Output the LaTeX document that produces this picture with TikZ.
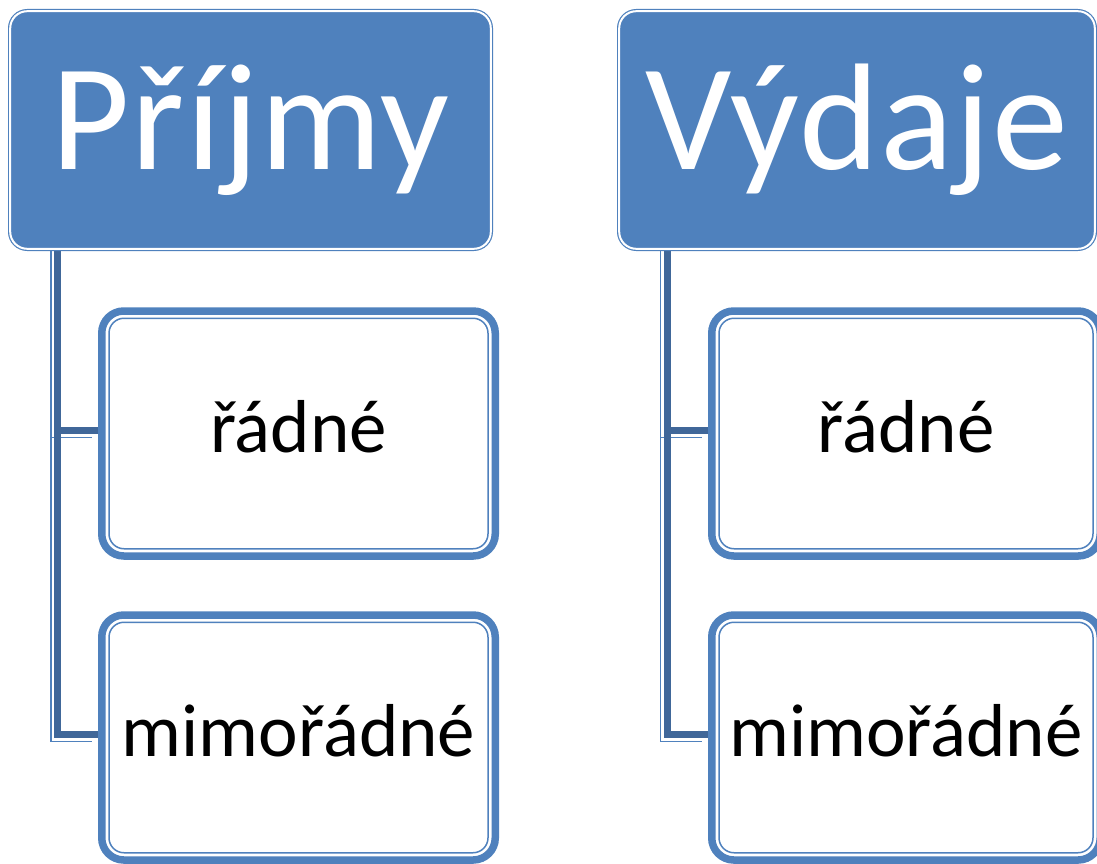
\documentclass[tikz,border=0pt]{standalone}
\usepackage{fontspec}
\setmainfont{Carlito}
\newfontfamily\hdrfont[LetterSpace=1]{Carlito}
\usepackage{tikz}

\definecolor{hdrblue}{RGB}{79,129,189}
\definecolor{linkblue}{RGB}{64,103,153}

\tikzset{
  hdrbox/.style={draw=hdrblue, double=white, double distance=2pt, line width=1.2pt,
    fill=hdrblue, rounded corners=17pt, inner sep=0pt, minimum height=237.6pt,
    text=white, font=\hdrfont\fontsize{152pt}{155pt}\selectfont, text height=78pt, text depth=0pt},
  itembox/.style={draw=hdrblue, line width=7.5pt, fill=white, rounded corners=22pt,
    inner sep=0pt, minimum height=245pt,
    font=\fontsize{75pt}{80pt}\selectfont, text height=38pt, text depth=0pt},
  itemline/.style={draw=hdrblue, line width=1.5pt, rounded corners=15pt},
  link/.style={draw=linkblue, line width=7pt,
    preaction={draw=hdrblue, line width=1.3pt, transform canvas={shift={(-6.5pt,-7pt)}}}},
}

\begin{document}
\begin{tikzpicture}[x=1pt,y=1pt,yscale=-1,xscale=1]
  \useasboundingbox (0,0) rectangle (1097,864);
  \clip (0,0) rectangle (1097,864);

  % Item boxes
  \node [itembox, minimum width=393.5pt] (prijradne) at (298.5,433.5) {řádné};
  \node [itembox, minimum width=393.5pt] (prijmimo) at (298.5,737.5) {mimořádné};
  \node [itembox, minimum width=388.5pt] (vydradne) at (906,433.5) {řádné};
  \node [itembox, minimum width=388.5pt] (vydmimo) at (906,737.5) {mimořádné};
  \foreach \b in {prijradne,prijmimo,vydradne,vydmimo}
    \draw [itemline] ([shift={(11,11)}]\b.north west) rectangle ([shift={(-11,-11)}]\b.south east);

  % Links
  \coordinate (prijtop) at (57.5,244);
  \coordinate (vydtop) at (667,244);
  \draw [link] (prijtop) |- ([yshift=-3pt]prijradne.west);
  \draw [link] (prijtop) |- ([yshift=-3pt]prijmimo.west);
  \draw [link] (vydtop) |- ([yshift=-3pt]vydradne.west);
  \draw [link] (vydtop) |- ([yshift=-3pt]vydmimo.west);

  % Header boxes
  \node [hdrbox, minimum width=480.6pt] (prijmy) at (250.5,130) {Příjmy};
  \node [hdrbox, minimum width=475.6pt] (vydaje) at (857,130) {Výdaje};
\end{tikzpicture}
\end{document}
